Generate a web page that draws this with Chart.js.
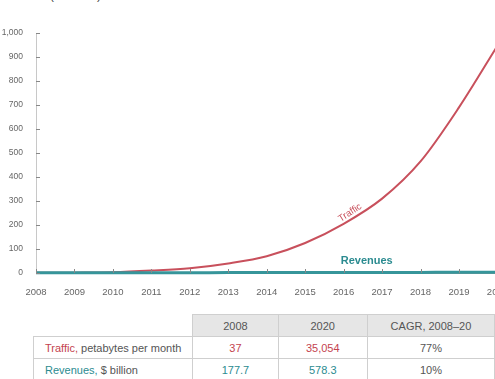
<!DOCTYPE html>
<html>
<head>
<meta charset="utf-8">
<script src="https://cdn.jsdelivr.net/npm/chart.js@4/dist/chart.umd.min.js"></script>
<style>
  html, body { margin: 0; padding: 0; background: #fff; }
  #wrap { position: relative; width: 495px; height: 379px; overflow: hidden; font-family: "Liberation Sans", Arial, sans-serif; }
  #title { position: absolute; left: 8px; top: -10px; font-size: 11px; color: #333; white-space: nowrap; }
  #chartBox { position: absolute; left: 0; top: 0; width: 514px; height: 300px; }
  table { position: absolute; left: 33px; top: 314px; border-collapse: collapse; table-layout: fixed; font-size: 11px; color: #555; }
  td, th { height: 21px; padding: 0; border: 1px solid #cfcfcf; font-weight: normal; text-align: center; white-space: nowrap; }
  th { background: #e6e6e6; }
  th.blank { background: #fff; border: none; border-bottom: 1px solid #cfcfcf; }
  td.lbl { text-align: left; padding-left: 11px; }
  .tr { color: #c4434f; }
  .rv { color: #2b8b90; }
</style>
</head>
<body>
<div id="wrap">
  <div id="title">Indexed (2008 = 1)</div>
  <div id="chartBox"><canvas id="c" width="514" height="300"></canvas></div>
  <table>
    <colgroup><col style="width:160px"><col style="width:89px"><col style="width:93px"><col style="width:130px"></colgroup>
    <tr><th class="blank"></th><th>2008</th><th>2020</th><th>CAGR, 2008–20</th></tr>
    <tr><td class="lbl"><span class="tr">Traffic,</span> petabytes per month</td><td class="tr">37</td><td class="tr">35,054</td><td>77%</td></tr>
    <tr><td class="lbl"><span class="rv">Revenues,</span> $ billion</td><td class="rv">177.7</td><td class="rv">578.3</td><td>10%</td></tr>
  </table>
</div>
<script>
// index, 2008 = 1
var years = [2008, 2009, 2010, 2011, 2012, 2013, 2014, 2015, 2016, 2017, 2018, 2019, 2020];
var traffic = [1, 1.5, 3, 10, 20, 40, 70, 125, 205, 310, 465, 690, 947];
var revenues = [1, 1.1, 1.2, 1.3, 1.4, 1.6, 1.7, 1.9, 2.1, 2.4, 2.6, 2.9, 3.25];
var yTicks = [0, 100, 200, 300, 400, 500, 600, 700, 800, 900, 1000];

var TRAFFIC_COL = '#c8505c';
var REV_COL = '#36959a';
var FONT = '"Liberation Sans", Arial, sans-serif';

function pts(vals) {
  return years.map(function (y, i) { return { x: y, y: vals[i] }; });
}

// short tick marks drawn inside the plot, plus the series labels
var decor = {
  id: 'decor',
  afterDatasetsDraw: function (chart) {
    var ctx = chart.ctx, xs = chart.scales.x, ys = chart.scales.y;
    var left = chart.chartArea.left, bottom = chart.chartArea.bottom;
    ctx.save();
    ctx.strokeStyle = '#888';
    ctx.lineWidth = 1;
    yTicks.forEach(function (v) {
      var py = Math.round(ys.getPixelForValue(v)) + 0.5;
      ctx.beginPath(); ctx.moveTo(left, py); ctx.lineTo(left + 4, py); ctx.stroke();
    });
    years.forEach(function (y) {
      var px = Math.round(xs.getPixelForValue(y)) + 0.5;
      ctx.beginPath(); ctx.moveTo(px, bottom - 4); ctx.lineTo(px, bottom); ctx.stroke();
    });

    // "Revenues" above the flat line
    ctx.fillStyle = '#2b8b90';
    ctx.font = 'bold 11px ' + FONT;
    ctx.textAlign = 'center';
    ctx.textBaseline = 'alphabetic';
    ctx.fillText('Revenues', xs.getPixelForValue(2016.6), ys.getPixelForValue(revenues[9]) - 8);

    // "Traffic" along the curve
    var meta = chart.getDatasetMeta(0).data;
    var a = meta[8], b = meta[9];
    var t = 0.25;
    var cx = a.x + (b.x - a.x) * t, cy = a.y + (b.y - a.y) * t;
    var ang = Math.atan2(b.y - a.y, b.x - a.x);
    ctx.translate(cx, cy);
    ctx.rotate(ang);
    ctx.font = '9.5px ' + FONT;
    ctx.textBaseline = 'bottom';
    ctx.lineWidth = 2;
    ctx.strokeStyle = '#fff';
    ctx.strokeText('Traffic', 0, -1);
    ctx.fillStyle = TRAFFIC_COL;
    ctx.fillText('Traffic', 0, -1);
    ctx.restore();
  }
};

new Chart(document.getElementById('c'), {
  type: 'line',
  data: {
    datasets: [
      { label: 'Traffic', data: pts(traffic), borderColor: TRAFFIC_COL, borderWidth: 2,
        pointRadius: 0, cubicInterpolationMode: 'monotone', clip: false, order: 2 },
      { label: 'Revenues', data: pts(revenues), borderColor: REV_COL, borderWidth: 3,
        pointRadius: 0, cubicInterpolationMode: 'monotone', clip: false, order: 1 }
    ]
  },
  options: {
    responsive: false,
    animation: false,
    layout: { padding: { top: 33, right: 0, left: 0, bottom: 0 } },
    plugins: { legend: { display: false }, tooltip: { enabled: false } },
    scales: {
      x: {
        type: 'linear', min: 2008, max: 2020,
        afterBuildTicks: function (s) { s.ticks = years.map(function (v) { return { value: v }; }); },
        afterFit: function (s) { s.height = 27; },
        grid: { display: false },
        border: { color: '#9a9a9a', width: 1 },
        ticks: { padding: 6, color: '#666', maxRotation: 0, autoSkip: false,
          font: { size: 9.5, family: FONT },
          callback: function (v) { return String(v); } }
      },
      y: {
        min: 0, max: 1000,
        afterBuildTicks: function (s) { s.ticks = yTicks.map(function (v) { return { value: v }; }); },
        afterFit: function (s) { s.width = 36; },
        grid: { display: false },
        border: { color: '#c8c8c8', width: 1 },
        ticks: { padding: 5, color: '#666',
          font: { size: 8.5, family: FONT },
          callback: function (v) { return v.toLocaleString('en-US'); } }
      }
    }
  },
  plugins: [decor]
});
</script>
</body>
</html>
